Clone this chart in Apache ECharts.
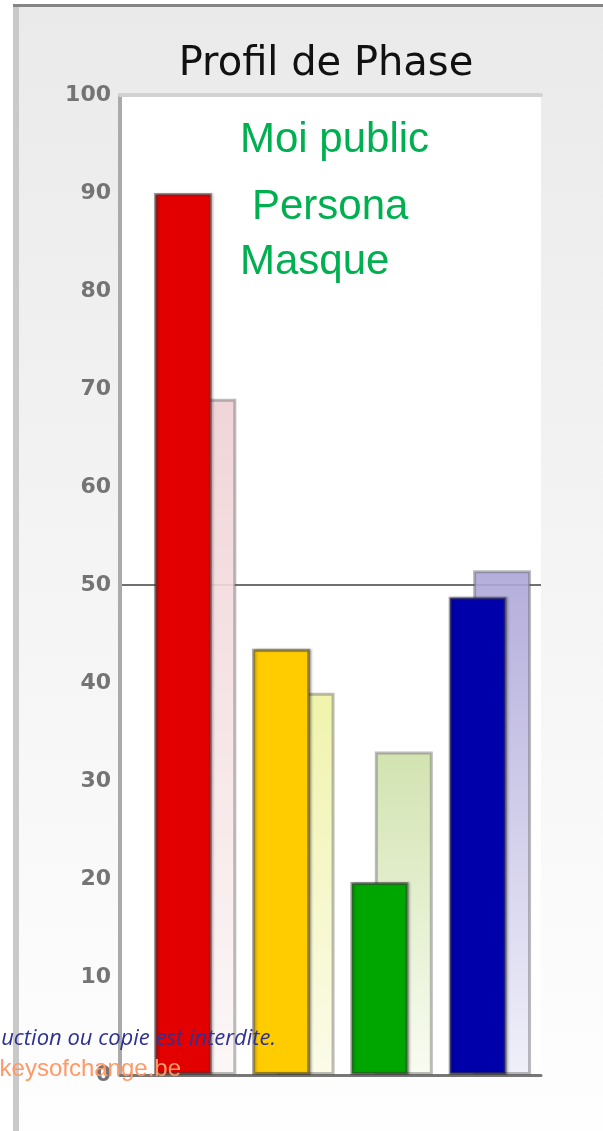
<!DOCTYPE html>
<html>
<head>
<meta charset="utf-8">
<script src="https://cdn.jsdelivr.net/npm/echarts@6/dist/echarts.min.js"></script>
<style>
  html, body { margin: 0; padding: 0; background: #fff; }
  #chart { width: 603px; height: 1131px; }
</style>
</head>
<body>
<div id="chart"></div>
<script>
// categories (hidden on the axis, one per colour)
const categories = ['D', 'I', 'S', 'C']
// front (solid) bars
const profilValues = [90, 43.5, 19.7, 48.8]
// back (light) bars
const tendanceValues = [69, 39, 33, 51.5]
// y ticks
const yMin = 0
const yMax = 100
const yStep = 10
const refLine = 50
// overlay texts
const labelsPhase = ['Moi public', 'Persona', 'Masque']

// styles
const frontColors = ['#e30000', '#ffcc00', '#00a600', '#0000aa']
const backTop = ['#efd0d4', '#eef2a2', '#cde0a8', '#aca5d8']
const backBottom = ['#fcf6f6', '#fbfbe6', '#f8fcf0', '#eeeef9']

const chart = echarts.init(document.getElementById('chart'))

// split line only at the reference value
const splitColors = []
for (let v = yMin; v <= yMax; v += yStep) {
  splitColors.push(v === refLine ? '#707070' : 'transparent')
}

chart.setOption({
  backgroundColor: '#ffffff',
  animation: false,
  title: {
    text: 'Profil de Phase',
    left: 321,
    top: 40,
    textAlign: 'center',
    textStyle: {
      fontFamily: 'DejaVu Sans',
      fontSize: 40,
      fontWeight: 'normal',
      color: '#111'
    }
  },
  graphic: [
    {
      type: 'rect',
      z: -20,
      shape: { x: 13, y: 4, width: 590, height: 1127 },
      style: {
        fill: new echarts.graphic.LinearGradient(0, 0, 0, 1, [
          { offset: 0, color: '#eaeaea' },
          { offset: 0.5, color: '#f4f4f4' },
          { offset: 1, color: '#fefefe' }
        ])
      }
    },
    {
      type: 'rect',
      z: -19,
      shape: { x: 13, y: 4, width: 6, height: 1127 },
      style: { fill: '#c9c9c9' }
    },
    {
      type: 'rect',
      z: -19,
      shape: { x: 13, y: 4, width: 590, height: 3 },
      style: { fill: '#858585' }
    },
    {
      type: 'text',
      z: 50,
      x: 240,
      y: 140,
      style: {
        text: labelsPhase[0],
        font: '42px "Liberation Sans", Arial, sans-serif',
        fill: '#00b050',
        verticalAlign: 'middle'
      }
    },
    {
      type: 'text',
      z: 50,
      x: 252,
      y: 207,
      style: {
        text: labelsPhase[1],
        font: '42px "Liberation Sans", Arial, sans-serif',
        fill: '#00b050',
        verticalAlign: 'middle'
      }
    },
    {
      type: 'text',
      z: 50,
      x: 240,
      y: 262,
      style: {
        text: labelsPhase[2],
        font: '42px "Liberation Sans", Arial, sans-serif',
        fill: '#00b050',
        verticalAlign: 'middle'
      }
    },
    {
      type: 'text',
      z: 50,
      x: 276,
      y: 1039,
      style: {
        text: 'uction ou copie est interdite.',
        font: 'italic 22px "Open Sans", sans-serif',
        fill: '#2e3192',
        align: 'right',
        verticalAlign: 'middle'
      }
    },
    {
      type: 'text',
      z: 50,
      x: 181,
      y: 1069,
      style: {
        text: 'keysofchange.be',
        font: '24px "Liberation Sans", Arial, sans-serif',
        fill: '#ff9966',
        align: 'right',
        verticalAlign: 'middle'
      }
    }
  ],
  grid: [
    // plot frame
    {
      left: 120, top: 95, width: 421, height: 980,
      show: true, backgroundColor: '#ffffff', borderWidth: 0
    },
    // bars
    {
      left: 146, top: 95, width: 393, height: 980
    }
  ],
  xAxis: [
    {
      gridIndex: 0,
      type: 'category',
      data: categories,
      axisLine: { show: true, lineStyle: { color: '#777', width: 3 } },
      axisTick: { show: false },
      axisLabel: { show: false }
    },
    {
      gridIndex: 0,
      type: 'category',
      position: 'top',
      data: categories,
      axisLine: { show: true, lineStyle: { color: '#d2d2d2', width: 4 } },
      axisTick: { show: false },
      axisLabel: { show: false }
    },
    {
      gridIndex: 1,
      type: 'category',
      data: categories,
      show: false
    }
  ],
  yAxis: [
    {
      gridIndex: 0,
      type: 'value',
      min: yMin,
      max: yMax,
      interval: yStep,
      axisLine: { show: true, lineStyle: { color: '#aaa', width: 4 } },
      axisTick: { show: false },
      axisLabel: {
        margin: 9,
        fontFamily: 'DejaVu Sans',
        fontSize: 22,
        fontWeight: 'bold',
        color: '#747474'
      },
      splitLine: {
        show: true,
        lineStyle: { color: splitColors, width: 2 }
      }
    },
    {
      gridIndex: 1,
      type: 'value',
      min: yMin,
      max: yMax,
      show: false
    }
  ],
  series: [
    {
      name: 'Profil',
      type: 'bar',
      xAxisIndex: 2,
      yAxisIndex: 1,
      z: 4,
      barWidth: 58,
      barGap: '-58%',
      data: profilValues,
      itemStyle: {
        color: p => frontColors[p.dataIndex],
        borderColor: 'rgba(60,60,60,0.5)',
        borderWidth: 3,
        shadowColor: 'rgba(0,0,0,0.25)',
        shadowBlur: 2,
        shadowOffsetX: 2
      }
    },
    {
      name: 'Tendance',
      type: 'bar',
      xAxisIndex: 2,
      yAxisIndex: 1,
      z: 3,
      barWidth: 58,
      data: tendanceValues,
      itemStyle: {
        opacity: 0.9,
        color: p => new echarts.graphic.LinearGradient(0, 0, 0, 1, [
          { offset: 0, color: backTop[p.dataIndex] },
          { offset: 1, color: backBottom[p.dataIndex] }
        ]),
        borderColor: 'rgba(90,90,90,0.45)',
        borderWidth: 3
      }
    }
  ]
})
</script>
</body>
</html>
